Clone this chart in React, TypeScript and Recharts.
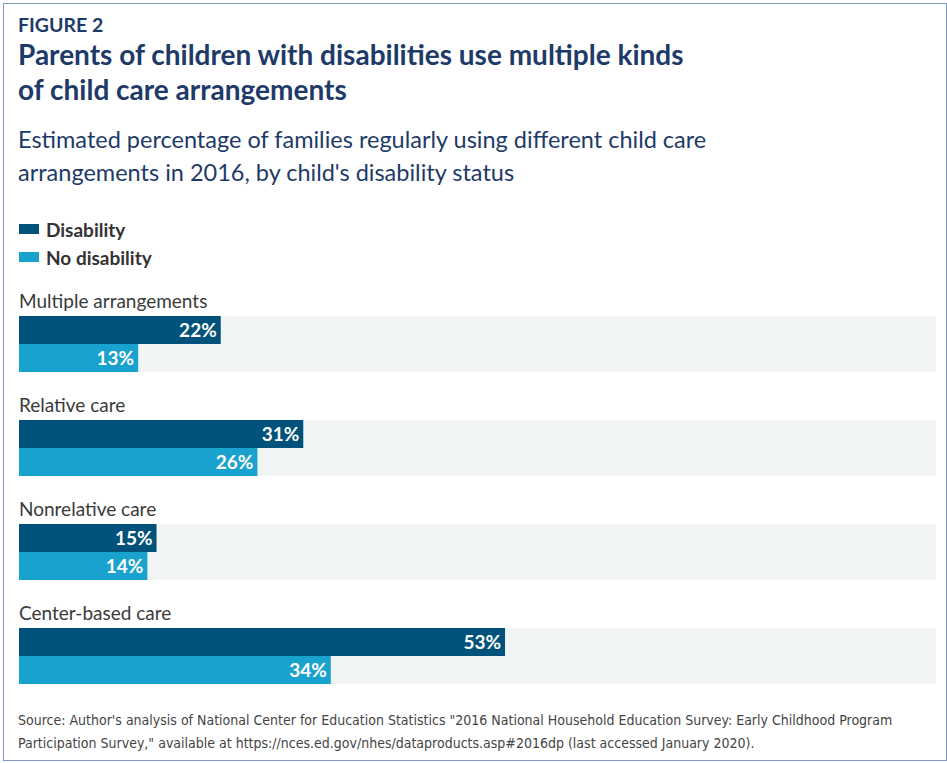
import { BarChart, Bar, XAxis, YAxis, LabelList } from 'recharts';

const categories = ['Multiple arrangements', 'Relative care', 'Nonrelative care', 'Center-based care'];
const disability = [22, 31, 15, 53];
const noDisability = [13, 26, 14, 34];
const seriesNames = ['Disability', 'No disability'];

const data = categories.map((name, i) => ({
  name,
  disability: disability[i],
  noDisability: noDisability[i],
}));

const NAVY = '#1d3a68';
const DARK = '#00527a';
const LIGHT = '#1aa2cf';
const BAND = '#f1f4f5';
const FONT = "Lato, 'Noto Sans', sans-serif";
const seriesColors = [DARK, LIGHT];

const CategoryTick = ({ y, payload }: any) => (
  <text x={19} y={y - 36} fontSize={19} fill="#3a3a3a" fontFamily={FONT}>
    {payload.value}
  </text>
);

const pct = (v: any) => `${v}%`;

export default function App() {
  return (
    <div style={{ position: 'absolute', left: 0, top: 0, width: 947, height: 763, background: '#fff', fontFamily: FONT }}>
      <div
        style={{
          position: 'absolute',
          left: 3,
          top: 3,
          width: 944,
          height: 758,
          boxSizing: 'border-box',
          border: '1.5px solid #8097c6',
        }}
      />
      <div style={{ position: 'absolute', left: 18, top: 13.5, lineHeight: '22px', fontSize: 19.5, fontWeight: 700, color: NAVY }}>
        FIGURE 2
      </div>
      <div style={{ position: 'absolute', left: 18, top: 36.5, lineHeight: '35px', fontSize: 28, fontWeight: 700, color: NAVY, whiteSpace: 'nowrap' }}>
        Parents of children with disabilities use multiple kinds
        <br />
        of child care arrangements
      </div>
      <div style={{ position: 'absolute', left: 18, top: 122.5, lineHeight: '33px', fontSize: 23.5, color: NAVY, whiteSpace: 'nowrap' }}>
        Estimated percentage of families regularly using different child care
        <br />
        arrangements in 2016, by child's disability status
      </div>

      <div style={{ position: 'absolute', left: 19, top: 215 }}>
        {seriesNames.map((name, i) => (
          <div
            key={name}
            style={{ display: 'flex', alignItems: 'center', height: 28, fontWeight: 700, fontSize: 19, color: '#333' }}
          >
            <span style={{ width: 20, height: 10, background: seriesColors[i], marginRight: 7, display: 'inline-block' }} />
            {name}
          </div>
        ))}
      </div>

      <div style={{ position: 'absolute', left: 0, top: 0 }}>
        <BarChart
          width={947}
          height={763}
          data={data}
          layout="vertical"
          margin={{ top: 292, right: 11, bottom: 55, left: 0 }}
          barSize={28}
          barGap={0}
        >
          <XAxis type="number" domain={[0, 100]} hide />
          <YAxis type="category" dataKey="name" width={19} axisLine={false} tickLine={false} tick={<CategoryTick />} />
          <Bar dataKey="disability" name={seriesNames[0]} fill={DARK} background={{ fill: BAND }} isAnimationActive={false}>
            <LabelList
              dataKey="disability"
              position="insideRight"
              offset={4}
              formatter={pct}
              fill="#fff"
              fontSize={19}
              fontWeight={700}
              fontFamily={FONT}
            />
          </Bar>
          <Bar dataKey="noDisability" name={seriesNames[1]} fill={LIGHT} background={{ fill: BAND }} isAnimationActive={false}>
            <LabelList
              dataKey="noDisability"
              position="insideRight"
              offset={4}
              formatter={pct}
              fill="#fff"
              fontSize={19}
              fontWeight={700}
              fontFamily={FONT}
            />
          </Bar>
        </BarChart>
      </div>

      <div
        style={{
          position: 'absolute',
          left: 18,
          top: 709,
          lineHeight: '23px',
          fontSize: 14,
          color: '#444',
          fontFamily: "'Liberation Sans Narrow', 'DejaVu Sans Condensed', sans-serif",
          whiteSpace: 'nowrap',
        }}
      >
        Source: Author's analysis of National Center for Education Statistics "2016 National Household Education Survey: Early Childhood Program
        <br />
        Participation Survey," available at https://nces.ed.gov/nhes/dataproducts.asp#2016dp (last accessed January 2020).
      </div>
    </div>
  );
}
